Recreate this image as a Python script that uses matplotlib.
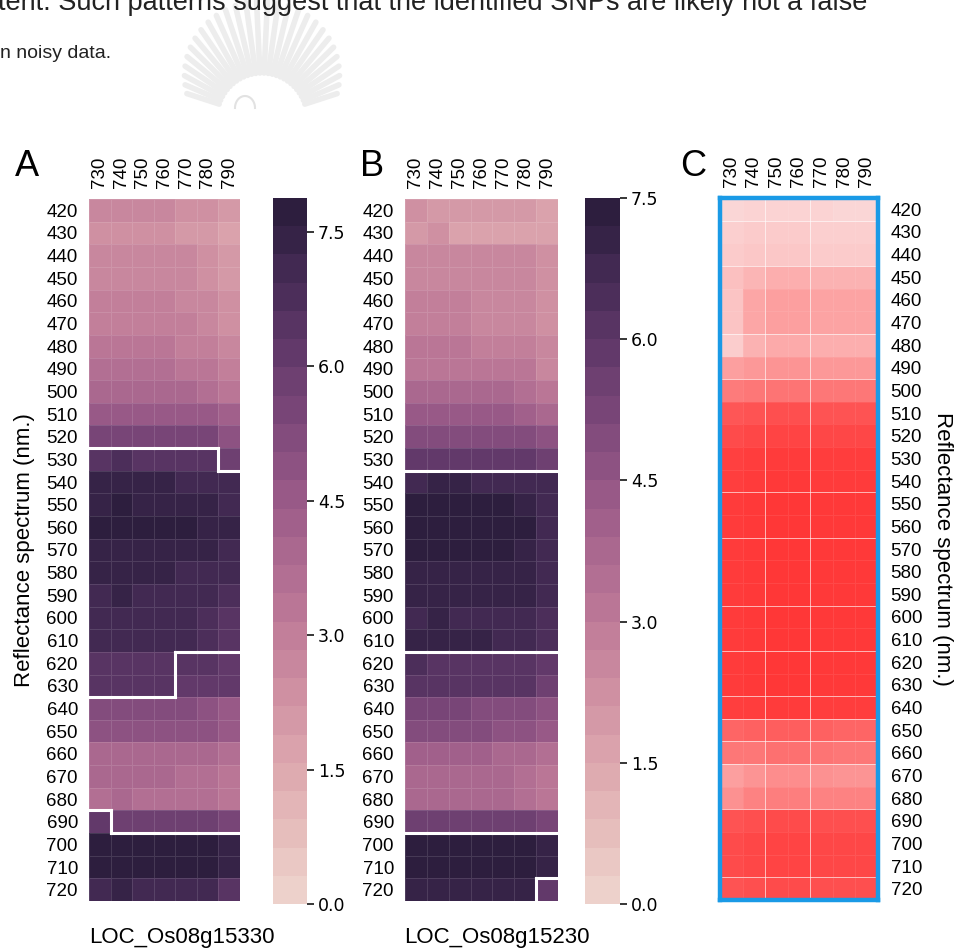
import numpy as np
import matplotlib
matplotlib.use("Agg")
import matplotlib.pyplot as plt
import seaborn as sns
from matplotlib.colors import ListedColormap, LinearSegmentedColormap, Normalize
from matplotlib.collections import LineCollection

# wavelengths (nm)
cols = [730, 740, 750, 760, 770, 780, 790]
rows = list(range(420, 730, 10))

# LOC_Os08g15330
vals_a = [
    [2.6, 2.6, 2.6, 2.6, 2.4, 2.4, 2.1],
    [2.3, 2.3, 2.3, 2.3, 2.1, 2.1, 1.8],
    [2.7, 2.7, 2.7, 2.7, 2.7, 2.5, 2.2],
    [2.7, 2.7, 2.7, 2.7, 2.7, 2.5, 2.2],
    [2.9, 2.9, 2.9, 2.9, 2.7, 2.7, 2.4],
    [2.9, 3.1, 3.1, 3.1, 3.1, 2.8, 2.5],
    [3.2, 3.2, 3.2, 3.2, 3.0, 3.0, 2.7],
    [3.5, 3.5, 3.5, 3.5, 3.2, 3.2, 2.9],
    [3.9, 3.9, 3.9, 3.9, 3.9, 3.7, 3.4],
    [4.6, 4.6, 4.6, 4.6, 4.6, 4.6, 4.1],
    [5.4, 5.4, 5.4, 5.4, 5.4, 5.4, 4.8],
    [6.6, 6.9, 6.6, 6.6, 6.6, 6.6, 5.9],
    [7.3, 7.3, 7.4, 7.4, 7.1, 7.1, 7.1],
    [7.3, 7.6, 7.3, 7.3, 7.3, 7.3, 7.1],
    [7.6, 7.6, 7.6, 7.6, 7.6, 7.4, 7.4],
    [7.3, 7.3, 7.3, 7.3, 7.3, 7.3, 7.1],
    [7.3, 7.3, 7.3, 7.3, 7.0, 7.0, 7.0],
    [7.1, 7.4, 7.1, 7.1, 7.1, 7.1, 6.9],
    [7.1, 7.1, 7.1, 7.1, 7.1, 6.8, 6.6],
    [7.1, 7.1, 7.1, 7.1, 7.1, 6.8, 6.6],
    [6.6, 6.6, 6.6, 6.6, 6.6, 6.6, 6.3],
    [6.6, 6.6, 6.6, 6.6, 6.3, 6.3, 6.0],
    [5.3, 5.3, 5.3, 5.3, 5.3, 5.0, 4.7],
    [5.0, 5.0, 5.0, 5.0, 5.0, 5.0, 4.7],
    [3.9, 3.9, 3.9, 3.9, 3.9, 3.9, 3.6],
    [3.9, 3.9, 3.9, 3.9, 3.6, 3.6, 3.3],
    [3.6, 3.9, 3.6, 3.6, 3.6, 3.6, 3.3],
    [6.3, 5.9, 5.9, 5.9, 5.9, 5.9, 5.6],
    [7.6, 7.6, 7.6, 7.6, 7.6, 7.6, 7.4],
    [7.6, 7.6, 7.6, 7.6, 7.6, 7.6, 7.4],
    [7.2, 7.4, 7.1, 7.1, 7.1, 7.1, 6.6],
]
groups_a = (["0000000"] * 11 + ["1111110"] + ["1111111"] * 8 + ["1111222"] * 2
            + ["2222222"] * 5 + ["3222222"] + ["3333333"] * 3)

# LOC_Os08g15230
vals_b = [
    [2.2, 2.0, 1.9, 1.9, 1.9, 2.0, 1.6],
    [1.9, 2.1, 1.7, 1.7, 1.7, 1.6, 1.5],
    [2.6, 2.6, 2.6, 2.6, 2.4, 2.4, 2.1],
    [2.6, 2.6, 2.6, 2.6, 2.4, 2.4, 2.1],
    [2.8, 2.8, 2.8, 2.6, 2.6, 2.6, 2.2],
    [2.8, 2.8, 2.8, 2.6, 2.4, 2.4, 2.2],
    [3.0, 3.0, 3.0, 2.8, 2.8, 2.8, 2.5],
    [3.2, 3.2, 3.2, 3.2, 3.0, 3.0, 2.6],
    [3.7, 3.7, 3.7, 3.7, 3.7, 3.5, 3.2],
    [4.2, 4.2, 4.2, 4.2, 4.2, 4.0, 3.7],
    [5.0, 5.0, 5.0, 5.0, 5.0, 5.0, 4.6],
    [5.8, 5.8, 5.8, 5.8, 5.8, 5.8, 5.4],
    [6.6, 7.0, 7.0, 6.8, 6.8, 6.8, 6.6],
    [7.3, 7.3, 7.3, 7.3, 7.3, 7.0, 6.8],
    [7.3, 7.3, 7.3, 7.3, 7.3, 7.3, 6.8],
    [7.3, 7.3, 7.3, 7.3, 7.3, 7.0, 6.8],
    [6.9, 6.9, 6.9, 6.9, 6.9, 6.9, 6.6],
    [6.9, 6.9, 6.9, 6.9, 6.9, 6.9, 6.6],
    [6.6, 6.9, 6.6, 6.6, 6.6, 6.6, 6.4],
    [6.9, 6.9, 7.1, 7.1, 6.6, 6.6, 6.4],
    [6.4, 6.1, 6.1, 6.1, 6.1, 6.1, 5.8],
    [6.1, 6.1, 6.1, 6.1, 6.1, 6.1, 5.5],
    [5.2, 5.2, 5.2, 5.0, 5.0, 5.0, 4.7],
    [5.0, 5.0, 5.0, 5.0, 4.7, 4.7, 4.4],
    [4.0, 4.0, 4.0, 4.0, 3.8, 3.8, 3.4],
    [3.8, 3.8, 3.8, 3.8, 3.6, 3.5, 3.2],
    [3.8, 3.8, 3.8, 3.8, 3.6, 3.5, 3.2],
    [5.6, 5.6, 5.6, 5.4, 5.4, 5.4, 5.2],
    [7.3, 7.3, 7.3, 7.3, 7.3, 7.3, 7.1],
    [7.3, 7.3, 7.3, 7.3, 7.3, 7.3, 7.0],
    [7.0, 7.0, 7.0, 7.0, 7.0, 7.0, 5.8],
]
groups_b = (["0000000"] * 12 + ["1111111"] * 8 + ["2222222"] * 8
            + ["3333333"] * 2 + ["3333334"])

# relative intensity, panel C
vals_c = [
    [.10, .12, .12, .12, .12, .10, .10],
    [.14, .16, .16, .16, .14, .14, .14],
    [.16, .18, .18, .18, .16, .16, .16],
    [.22, .28, .32, .32, .30, .30, .30],
    [.20, .36, .40, .40, .38, .38, .38],
    [.20, .36, .40, .40, .38, .38, .38],
    [.15, .30, .34, .34, .32, .32, .32],
    [.40, .44, .46, .46, .44, .44, .44],
    [.60, .62, .64, .64, .62, .62, .62],
    [.80, .82, .84, .84, .82, .82, .82],
    [.86, .88, .90, .90, .88, .88, .88],
    [.92, .94, .95, .95, .94, .94, .94],
    [.93, .95, .96, .96, .95, .95, .95],
    [.95, .96, .97, .97, .96, .96, .96],
    [.95, .96, .97, .97, .96, .96, .96],
    [.95, .96, .97, .97, .96, .96, .96],
    [.95, .96, .97, .97, .96, .96, .96],
    [.95, .96, .97, .97, .96, .96, .96],
    [.95, .96, .97, .97, .96, .96, .96],
    [.95, .96, .97, .97, .96, .96, .96],
    [.95, .96, .97, .97, .96, .96, .96],
    [.95, .96, .97, .97, .96, .96, .96],
    [.93, .94, .95, .95, .94, .94, .94],
    [.72, .74, .76, .76, .74, .72, .72],
    [.62, .62, .66, .66, .64, .62, .62],
    [.40, .46, .50, .50, .48, .46, .46],
    [.48, .56, .58, .58, .56, .56, .56],
    [.82, .84, .86, .86, .84, .84, .84],
    [.86, .88, .90, .90, .88, .88, .88],
    [.86, .88, .90, .90, .88, .88, .88],
    [.82, .84, .86, .86, .84, .84, .84],
]
c_vlines = [2, 4]
c_hlines = [1, 3, 6, 8, 13, 15, 18, 20, 22, 23, 24, 25, 27, 30]

vmax_a = 7.88
vmax_b = 7.5
cbar_ticks = [0.0, 1.5, 3.0, 4.5, 6.0, 7.5]

W, H = 960, 951
fig = plt.figure(figsize=(W / 100, H / 100), dpi=100)
lab_font = "Liberation Sans"


def box(x0, y0, x1, y1):
    return fig.add_axes([x0 / W, 1 - y1 / H, (x1 - x0) / W, (y1 - y0) / H])


def heat(ax, vals, cmap, norm, edge=(1, 1, 1, 0.12)):
    m = ax.pcolormesh(np.arange(len(cols) + 1), np.arange(len(rows) + 1),
                      np.array(vals), cmap=cmap, norm=norm,
                      edgecolors=edge, linewidth=0.5)
    ax.set_xlim(0, len(cols))
    ax.set_ylim(len(rows), 0)
    ax.set_xticks(np.arange(len(cols)) + 0.5)
    ax.set_xticklabels([str(c) for c in cols], rotation=90,
                       fontsize=13.5, family=lab_font)
    ax.set_yticks(np.arange(len(rows)) + 0.5)
    ax.set_yticklabels([str(r) for r in rows], fontsize=13.5, family=lab_font)
    ax.xaxis.tick_top()
    ax.tick_params(length=0, pad=8)
    for s in ax.spines.values():
        s.set_visible(False)
    return m


def borders(ax, groups):
    # white outline wherever two neighbouring cells belong to different clusters
    g = np.array([list(r) for r in groups])
    segs = []
    nr, nc = g.shape
    for i in range(nr - 1):
        for j in range(nc):
            if g[i, j] != g[i + 1, j]:
                segs.append([(j, i + 1), (j + 1, i + 1)])
    for i in range(nr):
        for j in range(nc - 1):
            if g[i, j] != g[i, j + 1]:
                segs.append([(j + 1, i), (j + 1, i + 1)])
    ax.add_collection(LineCollection(segs, colors="white", linewidths=2.2,
                                     capstyle="projecting", zorder=3))


def cbar(mesh, cax):
    cb = fig.colorbar(mesh, cax=cax, ticks=cbar_ticks)
    cb.outline.set_visible(False)
    cb.ax.set_yticklabels(["%.1f" % t for t in cbar_ticks],
                          fontsize=12.5, family="DejaVu Sans")
    cb.ax.tick_params(length=5, width=1.1, pad=3)
    return cb


pal = ListedColormap(sns.cubehelix_palette(25))

# panel A
ax_a = box(89, 199, 240, 901)
m_a = heat(ax_a, vals_a, pal, Normalize(0, vmax_a))
borders(ax_a, groups_a)
ax_a.set_ylabel("Reflectance spectrum (nm.)", fontsize=16, family=lab_font, labelpad=8)
cbar(m_a, box(273, 198, 307, 904))

# panel B
ax_b = box(405, 199, 558, 901)
m_b = heat(ax_b, vals_b, pal, Normalize(0, vmax_b))
borders(ax_b, groups_b)
cbar(m_b, box(585, 198, 620, 904))

# panel C
reds = LinearSegmentedColormap.from_list("reds", ["#fae8e8", "#ff3232"])
ax_c = box(720, 198, 878, 900)
heat(ax_c, vals_c, reds, Normalize(0, 1), edge=(1, 1, 1, 0.08))
ax_c.yaxis.tick_right()
ax_c.tick_params(axis="y", pad=9)
ax_c.yaxis.set_label_position("right")
ax_c.set_ylabel("Reflectance spectrum (nm.)", fontsize=16, family=lab_font,
                rotation=-90, labelpad=22)
for x in c_vlines:
    ax_c.axvline(x, color="white", lw=0.7, alpha=0.6)
for y in c_hlines:
    ax_c.axhline(y, color="white", lw=0.7, alpha=0.6)
for s in ax_c.spines.values():
    s.set_visible(True)
    s.set_color("#1a9ae6")
    s.set_linewidth(3.2)

# panel letters and gene names
for lab, x in [("A", 15), ("B", 360), ("C", 680)]:
    fig.text(x / W, 1 - 176 / H, lab, fontsize=26, family=lab_font, va="baseline")
fig.text(182 / W, 1 - 938 / H, "LOC_Os08g15330", fontsize=16, family=lab_font,
         ha="center", va="center")
fig.text(497 / W, 1 - 938 / H, "LOC_Os08g15230", fontsize=16, family=lab_font,
         ha="center", va="center")

# page text around the figure
fig.text(-2 / W, 1 - 10 / H,
         "tent. Such patterns suggest that the identified SNPs are likely not a false",
         fontsize=19.5, family=lab_font, color="#222222", va="baseline")
fig.text(0, 1 - 58 / H, "n noisy data.", fontsize=14, family=lab_font,
         color="#222222", va="baseline")

# faint seal behind the text
bg = fig.add_axes([0, 0, 1, 1], zorder=-1)
bg.set_xlim(0, W)
bg.set_ylim(H, 0)
bg.axis("off")
cx, cy = 262, 118
for ang in np.linspace(np.radians(18), np.radians(162), 28):
    r0 = 45
    r1 = 62 + 55 * np.sin(ang)
    bg.plot([cx + r0 * np.cos(ang), cx + r1 * np.cos(ang)],
            [cy - r0 * np.sin(ang), cy - r1 * np.sin(ang)],
            color="#ededed", lw=4, solid_capstyle="round")
t = np.linspace(0, np.pi, 40)
bg.plot(245 + 10 * np.cos(t), 108 - 12 * np.sin(t), color="#e2e2e2", lw=1.5)

fig.savefig("out.png", dpi=100)
